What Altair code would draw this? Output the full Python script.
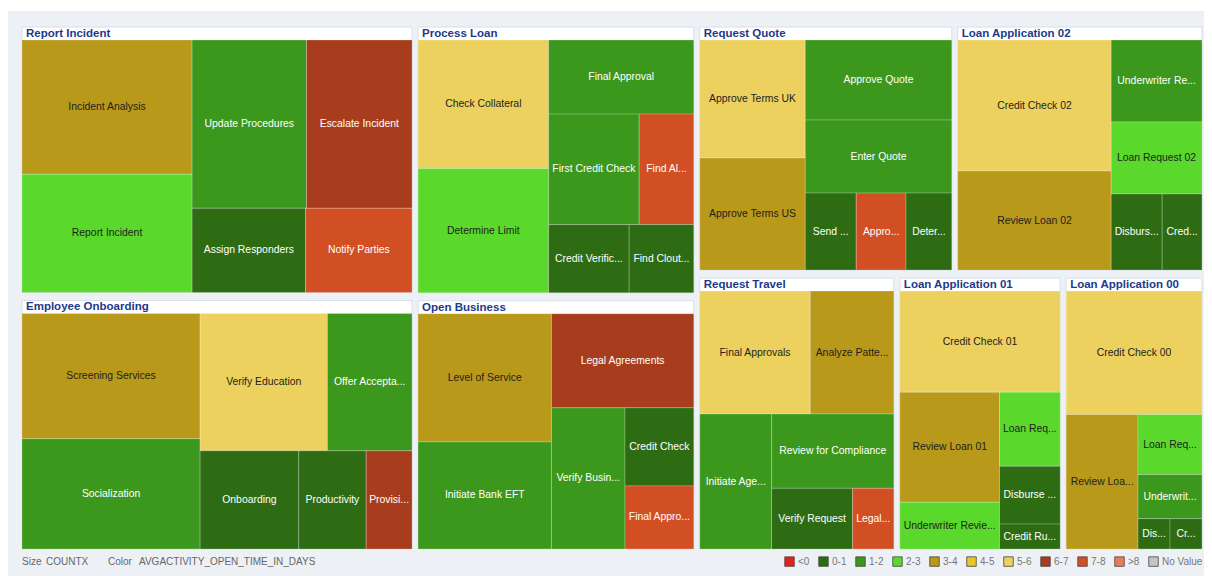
import altair as alt
import pandas as pd

# ---------------- data ----------------
group_names = ["Report Incident", "Process Loan", "Request Quote", "Loan Application 02",
               "Employee Onboarding", "Open Business", "Request Travel",
               "Loan Application 01", "Loan Application 00"]

item_groups = (["Report Incident"] * 6 + ["Process Loan"] * 7 + ["Request Quote"] * 7 +
               ["Loan Application 02"] * 6 + ["Employee Onboarding"] * 7 + ["Open Business"] * 6 +
               ["Request Travel"] * 6 + ["Loan Application 01"] * 6 + ["Loan Application 00"] * 6)

item_labels = [
    "Incident Analysis", "Report Incident", "Update Procedures", "Escalate Incident", "Assign Responders", "Notify Parties",
    "Check Collateral", "Determine Limit", "Final Approval", "First Credit Check", "Find Al...", "Credit Verific...", "Find Clout...",
    "Approve Terms UK", "Approve Terms US", "Approve Quote", "Enter Quote", "Send ...", "Appro...", "Deter...",
    "Credit Check 02", "Review Loan 02", "Underwriter Re...", "Loan Request 02", "Disburs...", "Cred...",
    "Screening Services", "Socialization", "Verify Education", "Offer Accepta...", "Onboarding", "Productivity", "Provisi...",
    "Level of Service", "Initiate Bank EFT", "Legal Agreements", "Verify Busin...", "Credit Check", "Final Appro...",
    "Final Approvals", "Analyze Patte...", "Initiate Age...", "Review for Compliance", "Verify Request", "Legal...",
    "Credit Check 01", "Review Loan 01", "Underwriter Revie...", "Loan Req...", "Disburse ...", "Credit Ru...",
    "Credit Check 00", "Review Loa...", "Loan Req...", "Underwrit...", "Dis...", "Cr...",
]

item_sizes = [
    504, 444, 425, 392, 211, 198,
    373, 360, 239, 222, 134, 122, 98,
    279, 265, 263, 240, 88, 86, 79,
    451, 341, 167, 147, 87, 68,
    495, 436, 388, 258, 215, 147, 100,
    382, 319, 299, 232, 120, 97,
    304, 230, 217, 203, 110, 56,
    365, 247, 105, 101, 79, 34,
    380, 219, 87, 64, 22, 22,
]

item_bins = [
    "3-4", "2-3", "1-2", "6-7", "0-1", "7-8",
    "5-6", "2-3", "1-2", "1-2", "7-8", "0-1", "0-1",
    "5-6", "3-4", "1-2", "1-2", "0-1", "7-8", "0-1",
    "5-6", "3-4", "1-2", "2-3", "0-1", "0-1",
    "3-4", "1-2", "5-6", "1-2", "0-1", "0-1", "6-7",
    "3-4", "1-2", "6-7", "1-2", "0-1", "7-8",
    "5-6", "3-4", "1-2", "1-2", "0-1", "7-8",
    "5-6", "3-4", "2-3", "2-3", "0-1", "0-1",
    "5-6", "3-4", "2-3", "1-2", "0-1", "0-1",
]

bin_labels = ["<0", "0-1", "1-2", "2-3", "3-4", "4-5", "5-6", "6-7", "7-8", ">8", "No Value"]
bin_colors = ["#e81e1e", "#2e6c14", "#3c981c", "#5ad82c", "#b9991a", "#eac52a",
              "#ecd15e", "#a73d1c", "#d24f23", "#ee7a58", "#c4c4c4"]
dark_text_bins = ["2-3", "3-4", "4-5", "5-6", "No Value"]

# ---------------- squarified treemap layout ----------------
W, H = 1196, 568
TX0, TY0, TX1, TY1 = 11, 15, 1197, 545
GAPX, GAPY, HEADER = 3, 4, 13


def worst(areas, side):
    s = sum(areas)
    return max(max(side * side * a / (s * s), (s * s) / (side * side * a)) for a in areas)


def squarify(items, x0, y0, x1, y1):
    total = sum(v for _, v in items)
    scale = (x1 - x0) * (y1 - y0) / total
    rest = [(k, v * scale) for k, v in items]
    out = []
    while rest:
        w, h = x1 - x0, y1 - y0
        side = min(w, h)
        row = [rest[0]]
        i = 1
        while i < len(rest):
            cand = row + [rest[i]]
            if worst([a for _, a in cand], side) <= worst([a for _, a in row], side):
                row = cand
                i += 1
            else:
                break
        rest = rest[len(row):]
        s = sum(a for _, a in row)
        if w >= h:
            cw = s / h
            yy = y0
            for k, a in row:
                rh = a / cw
                out.append((k, x0, yy, x0 + cw, yy + rh))
                yy += rh
            x0 += cw
        else:
            rh = s / w
            xx = x0
            for k, a in row:
                rw = a / rh
                out.append((k, xx, y0, xx + rw, y0 + rh))
                xx += rw
            y0 += rh
    return out


totals = {g: sum(s for gg, s in zip(item_groups, item_sizes) if gg == g) for g in group_names}
order = sorted(group_names, key=lambda g: -totals[g])
group_rects = squarify([(g, totals[g]) for g in order], TX0, TY0, TX1, TY1)

grows, crows = [], []
for g, gx0, gy0, gx1, gy1 in group_rects:
    bx0, by0, bx1, by1 = gx0 + GAPX, gy0 + GAPY, gx1 - GAPX, gy1 - GAPY
    grows.append({"group": g, "x0": bx0, "x1": bx1, "y0": by0, "y1": by1,
                  "tx": bx0 + 4, "ty": by0 + 7})
    idx = [i for i, gg in enumerate(item_groups) if gg == g]
    items = sorted([(i, item_sizes[i]) for i in idx], key=lambda t: -t[1])
    for i, cx0, cy0, cx1, cy1 in squarify(items, bx0, by0 + HEADER, bx1, by1):
        crows.append({"group": g, "label": item_labels[i], "size": item_sizes[i],
                      "bin": item_bins[i], "x0": cx0, "x1": cx1, "y0": cy0, "y1": cy1,
                      "cx": (cx0 + cx1) / 2, "cy": (cy0 + cy1) / 2,
                      "dark": item_bins[i] in dark_text_bins})

groups = pd.DataFrame(grows)
cells = pd.DataFrame(crows)

xsc = alt.Scale(domain=[0, W], nice=False, zero=False)
ysc = alt.Scale(domain=[0, H], nice=False, zero=False, reverse=True)
FONT = "Liberation Sans"

panel = alt.Chart(pd.DataFrame({"a": [0]})).mark_rect(color="#edf1f5").encode(
    x=alt.value(0), x2=alt.value(W), y=alt.value(3), y2=alt.value(H))

gbox = alt.Chart(groups).mark_rect(fill="white", stroke="#d8dfe7", strokeWidth=1).encode(
    x=alt.X("x0:Q", scale=xsc, axis=None), x2="x1:Q",
    y=alt.Y("y0:Q", scale=ysc, axis=None), y2="y1:Q")

rects = alt.Chart(cells).mark_rect(stroke="white", strokeOpacity=0.22, strokeWidth=1).encode(
    x=alt.X("x0:Q", scale=xsc, axis=None), x2="x1:Q",
    y=alt.Y("y0:Q", scale=ysc, axis=None), y2="y1:Q",
    color=alt.Color("bin:N", scale=alt.Scale(domain=bin_labels, range=bin_colors),
                    legend=alt.Legend(title=None, orient="none", legendX=776, legendY=548,
                                      direction="horizontal", columns=11, symbolType="square",
                                      symbolSize=90, symbolStrokeColor="#444444",
                                      symbolStrokeWidth=0.8, symbolOpacity=1,
                                      labelFontSize=10, labelColor="#777777", labelFont=FONT,
                                      labelOffset=3, columnPadding=7, padding=0)),
    tooltip=["group:N", "label:N", "size:Q", "bin:N"])

txt_dark = alt.Chart(cells).transform_filter("datum.dark").mark_text(
    font=FONT, fontSize=10.4, color="#1e1e1e", baseline="middle", align="center").encode(
    x=alt.X("cx:Q", scale=xsc, axis=None), y=alt.Y("cy:Q", scale=ysc, axis=None), text="label:N")

txt_light = alt.Chart(cells).transform_filter("!datum.dark").mark_text(
    font=FONT, fontSize=10.4, color="#ffffff", baseline="middle", align="center").encode(
    x=alt.X("cx:Q", scale=xsc, axis=None), y=alt.Y("cy:Q", scale=ysc, axis=None), text="label:N")

titles = alt.Chart(groups).mark_text(
    font=FONT, fontSize=11.5, fontWeight="bold", color="#1d3a8a", align="left",
    baseline="middle").encode(
    x=alt.X("tx:Q", scale=xsc, axis=None), y=alt.Y("ty:Q", scale=ysc, axis=None), text="group:N")


def foot(s, px):
    return alt.Chart(pd.DataFrame({"t": [s]})).mark_text(
        font=FONT, fontSize=10, color="#666666", align="left", baseline="middle").encode(
        x=alt.value(px), y=alt.value(554), text="t:N")


chart = alt.layer(
    panel, gbox, rects, txt_dark, txt_light, titles,
    foot("Size", 14), foot("COUNTX", 38), foot("Color", 100),
    foot("AVGACTIVITY_OPEN_TIME_IN_DAYS", 131),
).properties(
    width=W, height=H, padding=0, background="white",
    autosize=alt.AutoSizeParams(type="none"),
).configure_view(stroke=None)

chart.save("out.html", embed_options={"renderer": "svg", "actions": False})
